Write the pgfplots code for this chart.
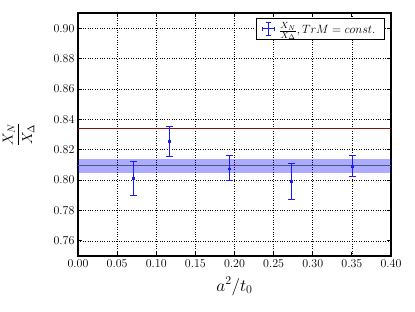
\documentclass[border=0pt]{standalone}
\usepackage{pgfplots}
\pgfplotsset{compat=1.18}
\definecolor{bandline}{RGB}{85,85,120}
\definecolor{redline}{RGB}{125,20,20}
\definecolor{errblue}{RGB}{25,25,255}
\pgfplotsset{
  ybar err/.style={color=errblue, line width=1pt, mark=-, mark size=3.5pt,
    mark options={solid, line width=1pt}, forget plot},
  xbar err/.style={color=errblue, line width=1pt, mark=|, mark size=1.3pt,
    mark options={solid, line width=1pt}, forget plot},
}
\begin{document}
\begin{tikzpicture}
\useasboundingbox (-78pt,-55pt) rectangle (337pt,256pt);
\begin{axis}[
  scale only axis,
  width=313pt, height=243pt,
  xmin=0, xmax=0.4, ymin=0.75, ymax=0.91,
  xtick={0,0.05,0.1,0.15,0.2,0.25,0.3,0.35,0.4},
  ytick={0.76,0.78,0.8,0.82,0.84,0.86,0.88,0.9},
  scaled ticks=false,
  xticklabel style={/pgf/number format/.cd, fixed, fixed zerofill, precision=2},
  yticklabel style={/pgf/number format/.cd, fixed, fixed zerofill, precision=2},
  tick label style={font=\fontsize{11.5}{13}\selectfont},
  tick pos=both, tick align=inside,
  major tick length=4pt,
  tick style={black, line width=0.8pt},
  axis line style={line width=1.2pt},
  grid=major,
  grid style={dotted, black, line width=0.6pt},
  xlabel={$a^2/t_0$},
  ylabel={$\displaystyle\frac{X_N}{X_\Delta}$},
  xlabel style={font=\fontsize{17.28}{20}\selectfont, at={(axis description cs:0.5,-0.125)}, anchor=center},
  ylabel style={font=\fontsize{14.4}{16}\selectfont, at={(axis description cs:-0.19,0.5)}, anchor=center},
  legend style={at={(0.981,0.98)}, anchor=north east, draw=black, line width=1.2pt,
    font=\fontsize{13.2}{15}\selectfont, inner xsep=5pt, inner ysep=2pt,
    legend cell align=left,
    nodes={inner xsep=4pt}},
]
\addplot[draw=none, fill=blue, fill opacity=0.33, forget plot]
  coordinates {(0,0.8049) (0.4,0.8049) (0.4,0.8137) (0,0.8137)} -- cycle;
\addplot[bandline, line width=0.8pt, forget plot] coordinates {(0,0.8095) (0.4,0.8095)};
\addplot[redline, line width=0.8pt, forget plot] coordinates {(0,0.8343) (0.4,0.8343)};
% vertical error bars (value 0.8011, 0.8255, 0.8073, 0.7990, 0.8089)
\addplot[ybar err] coordinates {(0.0704,0.7898) (0.0704,0.8124)};
\addplot[ybar err] coordinates {(0.1165,0.8156) (0.1165,0.8354)};
\addplot[ybar err] coordinates {(0.1930,0.7994) (0.1930,0.8161)};
\addplot[ybar err] coordinates {(0.2730,0.7872) (0.2730,0.8108)};
\addplot[ybar err] coordinates {(0.3505,0.8021) (0.3505,0.8161)};
% horizontal error bars at the central values
\addplot[xbar err] coordinates {(0.0691,0.8011) (0.0717,0.8011)};
\addplot[xbar err] coordinates {(0.1152,0.8255) (0.1178,0.8255)};
\addplot[xbar err] coordinates {(0.1917,0.8073) (0.1943,0.8073)};
\addplot[xbar err] coordinates {(0.2720,0.7990) (0.2740,0.7990)};
\addplot[xbar err] coordinates {(0.3495,0.8089) (0.3515,0.8089)};
\addlegendimage{legend image code/.code={
  \draw[errblue, line width=1pt] (0.05cm,0) -- (0.49cm,0) (0.27cm,-0.22cm) -- (0.27cm,0.22cm)
   (0.05cm,-0.08cm) -- (0.05cm,0.08cm) (0.49cm,-0.08cm) -- (0.49cm,0.08cm)
   (0.19cm,-0.22cm) -- (0.35cm,-0.22cm) (0.19cm,0.22cm) -- (0.35cm,0.22cm);}}
\addlegendentry{$\frac{X_N}{X_\Delta}, TrM = const.$}
\end{axis}
\end{tikzpicture}
\end{document}
